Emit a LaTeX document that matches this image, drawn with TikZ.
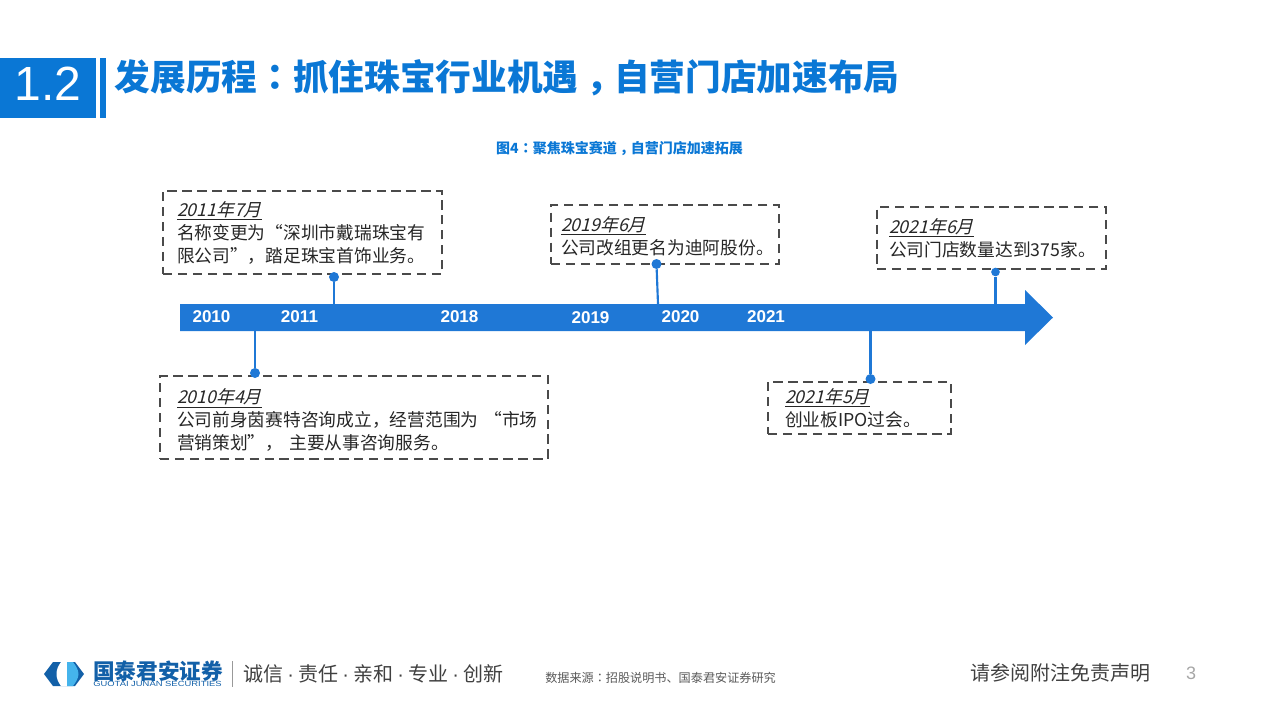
\documentclass[tikz,border=0pt]{standalone}
\usepackage{fontspec}
\setmainfont{Noto Sans CJK SC}
\newfontfamily\datefont[FakeSlant=0.25]{Noto Sans CJK SC}
\newfontfamily\puncfont{Noto Sans CJK TC}
\newfontfamily\latinfont{Liberation Sans}
\definecolor{headblue}{HTML}{0A77D5}
\definecolor{barblue}{HTML}{1F78D6}
\definecolor{boxgray}{HTML}{4A4A4A}
\definecolor{logoblue}{HTML}{1260A8}
\definecolor{logolight}{HTML}{45B4EC}
\newcommand{\eventdate}[1]{\underline{\datefont #1}}
\newcommand{\mottodot}{\hbox to 11.25pt{\hss\latinfont ·\hss}}
\newcommand{\centercolon}{{\puncfont ：}}
\newcommand{\centercomma}{\kern0.22em，\kern-0.22em}
\usetikzlibrary{positioning}

\begin{document}
\begin{tikzpicture}[x=0.75pt,y=-0.75pt]
            \tikzstyle{eventbox}=[draw=boxgray, line width=1.7pt, dash pattern=on 7pt off 4.2pt, anchor=north west, align=left, outer sep=0pt, inner ysep=0pt, text=black!85, font=\fontsize{13.3}{17.25}\selectfont]
            \tikzstyle{yearlabel}=[text=white, font=\latinfont\bfseries\fontsize{12.8}{14}\selectfont]
            \tikzstyle{eventdot}=[circle, fill=barblue, inner sep=0pt, minimum size=7.5pt]
            \tikzstyle{eventline}=[draw=barblue, line width=1.6pt]

            \useasboundingbox (0,0) rectangle (1279,719);

            \fill[headblue] (0,58) rectangle (96,118);
            \fill[headblue] (100,58) rectangle (106,118);
            \node[text=white, font=\latinfont\fontsize{36}{40}\selectfont] (secnum) at (48,84) {1.2};
            \node[anchor=west, inner sep=0pt, text=headblue, font=\bfseries\fontsize{26.75}{30}\selectfont] (title) at (114.5,78) {发展历程\centercolon 抓住珠宝行业机遇\centercomma 自营门店加速布局};
            \node[text=headblue, font=\bfseries\fontsize{10.5}{12}\selectfont] (caption) at (619.5,148) {图4\centercolon 聚焦珠宝赛道\centercomma 自营门店加速拓展};

            \fill[barblue] (180,304) -- (1025,304) -- (1025,290) -- (1053,317.5) -- (1025,345) -- (1025,331) -- (180,331) -- cycle;
            \coordinate (top2011) at (334,304);
            \coordinate (low2010) at (255,331);
            \coordinate (top2019) at (658,304);
            \coordinate (low2021) at (870.5,331);
            \coordinate (top2021) at (995.5,304);

            \node[yearlabel] (y2010) at (211.5,316.5) {2010};
            \node[yearlabel] (y2011) at (299.5,316.5) {2011};
            \node[yearlabel] (y2018) at (459.5,316.5) {2018};
            \node[yearlabel] (y2019) at (590.5,317.5) {2019};
            \node[yearlabel] (y2020) at (680.5,316.5) {2020};
            \node[yearlabel] (y2021) at (766,316.5) {2021};

            \node[eventbox, inner xsep=10.5pt, text width=188.25pt, minimum height=62.25pt] (box2011) at (163,191)
            {\eventdate{2011年7月}\\\mbox{名称变更为“深圳市戴瑞珠宝有}\\\mbox{限公司”，踏足珠宝首饰业务。}};
            \node[eventbox, inner xsep=12.75pt, text width=265.5pt, minimum height=62.25pt] (box2010) at (160,376)
            {\rule{0pt}{15pt}\eventdate{2010年4月}\\\mbox{公司前身茵赛特咨询成立，经营范围为 “市场}\\\mbox{营销策划”， 主要从事咨询服务。}};
            \node[eventbox, inner xsep=7.5pt, text width=156pt, minimum height=44.25pt] (box2019) at (551,205)
            {\rule{0pt}{13.5pt}\eventdate{2019年6月}\\\mbox{公司改组更名为迪阿股份。}};
            \node[eventbox, inner xsep=9pt, text width=153.75pt, minimum height=46.5pt] (box2021b) at (877,207)
            {\eventdate{2021年6月}\\\mbox{公司门店数量达到375家。}};
            \node[eventbox, inner xsep=12.75pt, text width=111.75pt, minimum height=39pt] (box2021a) at (768,382)
            {\eventdate{2021年5月}\\\mbox{创业板IPO过会。}};

            \node[eventdot] (dot2011) at (334,277) {};
            \node[eventdot] (dot2010) at (255,373) {};
            \node[eventdot] (dot2019) at (656.5,264) {};
            \node[eventdot] (dot2021a) at (870.5,379) {};
            \node[eventdot, minimum size=6.5pt] (dot2021b) at (995.5,272) {};

            \draw[eventline] (dot2011) -- (top2011);
            \draw[eventline] (dot2010) -- (low2010);
            \draw[eventline] (dot2019) -- (top2019);
            \draw[eventline] (dot2021a) -- (low2021);
            \draw[eventline] (dot2021b) -- (top2021);

            \fill[logoblue] (44,674) -- (53,662) -- (75,662) -- (84,674) -- (75,686) -- (53,686) -- cycle;
            \fill[white] (61,662) -- (67,662) -- (67,686) -- (61,686) .. controls (58,682) and (56.5,678) .. (56.5,674) .. controls (56.5,670) and (58,666) .. (61,662) -- cycle;
            \fill[logolight] (67,662) -- (73,662) .. controls (76,666) and (78.5,670) .. (78.5,674) .. controls (78.5,678) and (76,682) .. (73,686) -- (67,686) -- cycle;
            \node[anchor=west, inner sep=0pt, text=logoblue, font=\bfseries\fontsize{16.2}{18}\selectfont] (logoname) at (93,671) {国泰君安证券};
            \node[anchor=west, inner sep=0pt, text=logoblue, font=\latinfont\fontsize{5.6}{6}\selectfont] (logoen) at (93,683.5) {\scalebox{1.26}[1]{GUOTAI JUNAN SECURITIES}};
            \draw[black!40, line width=0.75pt] (232,661) -- (232,687);
            \node[anchor=west, inner sep=0pt, text=black!75, font=\fontsize{15}{18}\selectfont] (motto) at (243,674) {诚信\mottodot 责任\mottodot 亲和\mottodot 专业\mottodot 创新};
            \node[anchor=west, inner sep=0pt, text=black!65, font=\fontsize{9.1}{11}\selectfont] (source) at (545,678) {数据来源\centercolon 招股说明书、国泰君安证券研究};
            \node[anchor=west, inner sep=0pt, text=black!75, font=\fontsize{15}{18}\selectfont] (notice) at (970,673) {请参阅附注免责声明};
            \node[text=black!35, font=\latinfont\fontsize{13.5}{16}\selectfont] (pagenum) at (1191,673.5) {3};
        \end{tikzpicture}
\end{document}
